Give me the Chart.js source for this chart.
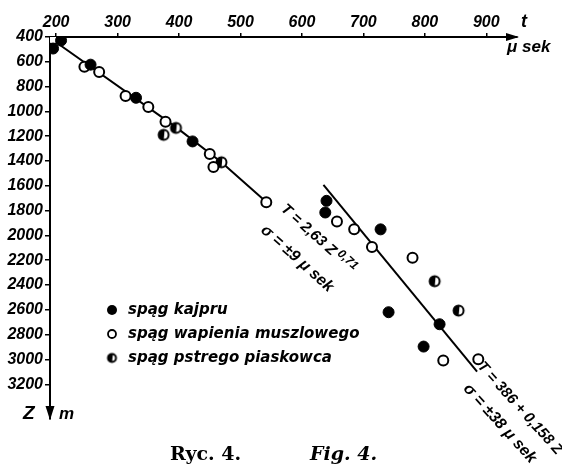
<!DOCTYPE html>
<html><head><meta charset="utf-8">
<script src="https://cdn.jsdelivr.net/npm/chart.js@4/dist/chart.umd.min.js"></script>
<style>html,body{margin:0;padding:0;background:#fff}#wrap{width:562px;height:473px;position:relative}</style>
</head><body><div id="wrap"><canvas id="c" width="562" height="473"></canvas></div>
<script>
// ---- data ----
const xTicks = [200, 300, 400, 500, 600, 700, 800, 900];
const yTicks = [400, 600, 800, 1000, 1200, 1400, 1600, 1800, 2000, 2200, 2400, 2600, 2800, 3000, 3200];
const seriesNames = ['spąg kajpru', 'spąg wapienia muszlowego', 'spąg pstrego piaskowca'];
const kajpruT = [208, 195, 256, 330, 422, 640, 638, 728, 741, 824, 798];
const kajpruZ = [428, 493, 623, 890, 1242, 1721, 1815, 1951, 2619, 2716, 2896];
const wapT = [195, 246, 270, 313, 350, 378, 450, 456, 542, 657, 685, 714, 780, 830, 887];
const wapZ = [420, 639, 682, 876, 965, 1084, 1343, 1449, 1732, 1888, 1951, 2094, 2180, 3009, 2998];
const pstT = [395, 375, 469, 816, 855];
const pstZ = [1133, 1189, 1410, 2369, 2606];
const fit1T = [205, 395, 469, 537];
const fit1Z = [460, 1127, 1410, 1708];
const fit2T = [635, 885];
const fit2Z = [1592, 3098];
const fit1Text = ['T = 2,63 Z', '0,71', 'σ = ±9 μ sek'];
const fit2Text = ['T = 386 + 0,158 Z', 'σ = ±38 μ sek'];
const xTitle = ['t', 'μ sek'];
const yTitle = ['Z', 'm'];
const captions = ['Ryc. 4.', 'Fig. 4.'];

const pts = (xs, ys) => xs.map((v, i) => ({x: v, y: ys[i]}));
const F = '"Liberation Sans", Arial, sans-serif';

function halfCanvas(r) {
  const s = Math.ceil(r * 2 + 4), c = document.createElement('canvas');
  c.width = s; c.height = s;
  const g = c.getContext('2d'), cx = s / 2, cy = s / 2;
  g.fillStyle = '#fff'; g.beginPath(); g.arc(cx, cy, r, 0, 2 * Math.PI); g.fill();
  g.fillStyle = '#000'; g.beginPath(); g.moveTo(cx + 1, cy - r); g.arc(cx, cy, r, -Math.PI / 2, Math.PI / 2, true); g.closePath(); g.fill();
  g.lineWidth = 2; g.strokeStyle = '#000'; g.beginPath(); g.arc(cx, cy, r - 0.5, 0, 2 * Math.PI); g.stroke();
  return c;
}
const halfBig = halfCanvas(5.5), halfSmall = halfCanvas(4.5);

function drawRot(ctx, txt, x, y, ang, font) {
  ctx.save(); ctx.translate(x, y); ctx.rotate(ang * Math.PI / 180);
  ctx.font = font; ctx.textAlign = 'left'; ctx.textBaseline = 'middle';
  ctx.fillText(txt, 0, 0);
  const w = ctx.measureText(txt).width;
  ctx.restore();
  return w;
}

const deco = {
  id: 'deco',
  afterDraw(chart) {
    const ctx = chart.ctx, ca = chart.chartArea;
    ctx.save(); ctx.fillStyle = '#000'; ctx.strokeStyle = '#000';
    // arrows
    ctx.beginPath(); ctx.moveTo(ca.right + 2, ca.top); ctx.lineTo(ca.right - 11, ca.top - 4); ctx.lineTo(ca.right - 11, ca.top + 4); ctx.closePath(); ctx.fill();
    ctx.beginPath(); ctx.moveTo(ca.left, ca.bottom + 1); ctx.lineTo(ca.left - 4.5, ca.bottom - 13); ctx.lineTo(ca.left + 4.5, ca.bottom - 13); ctx.closePath(); ctx.fill();
    // axis titles
    ctx.textBaseline = 'middle'; ctx.textAlign = 'left';
    ctx.font = 'italic bold 18px ' + F; ctx.fillText(xTitle[0], ca.right + 4, 22);
    ctx.font = 'italic bold 17px ' + F; ctx.fillText(xTitle[1], ca.right - 10, 47);
    ctx.font = 'italic bold 19px ' + F; ctx.fillText(yTitle[0], 23, ca.bottom - 5);
    ctx.font = 'italic bold 17px ' + F; ctx.fillText(yTitle[1], 59, ca.bottom - 5);
    // legend
    const ly = [310, 334, 358];
    ctx.font = 'italic bold 15px "DejaVu Sans"';
    ly.forEach((y, i) => {
      const x = 112;
      if (i === 0) { ctx.beginPath(); ctx.arc(x, y, 5, 0, 2 * Math.PI); ctx.fill(); }
      else if (i === 1) { ctx.lineWidth = 1.8; ctx.beginPath(); ctx.arc(x, y, 4, 0, 2 * Math.PI); ctx.stroke(); }
      else { ctx.drawImage(halfSmall, x - halfSmall.width / 2, y - halfSmall.height / 2); }
      ctx.fillText(chart.data.datasets[i].label, 128, y);
    });
    // fit annotations
    const f14 = 'italic bold 14px ' + F, f16 = 'italic bold 16px ' + F;
    const w = drawRot(ctx, fit1Text[0], 283, 207, 42, 'italic bold 15px ' + F);
    const a = 42 * Math.PI / 180;
    drawRot(ctx, fit1Text[1], 283 + (w + 3) * Math.cos(a) + 4 * Math.sin(a), 207 + (w + 3) * Math.sin(a) - 4 * Math.cos(a), 42, 'italic bold 12px ' + F);
    drawRot(ctx, fit1Text[2], 263, 228, 42, f16);
    drawRot(ctx, fit2Text[0], 480, 364, 48, 'italic bold 15px ' + F);
    drawRot(ctx, fit2Text[1], 466, 386, 48, f16);
    // captions
    ctx.font = 'bold 19px "DejaVu Serif"'; ctx.fillText(captions[0], 170, 455);
    ctx.font = 'italic bold 19px "DejaVu Serif"'; ctx.fillText(captions[1], 310, 455);
    ctx.restore();
  }
};

const tickFont = {family: F, size: 16, style: 'italic', weight: 'bold'};
new Chart(document.getElementById('c'), {
  type: 'scatter',
  data: {
    datasets: [
      {label: seriesNames[0], data: pts(kajpruT, kajpruZ), pointStyle: 'circle', pointRadius: 5.5, backgroundColor: '#000', borderColor: '#000', borderWidth: 1, order: 1},
      {label: seriesNames[1], data: pts(wapT, wapZ), pointStyle: 'circle', pointRadius: 5, backgroundColor: '#fff', borderColor: '#000', borderWidth: 2, order: 1},
      {label: seriesNames[2], data: pts(pstT, pstZ), pointStyle: halfBig, pointRadius: 5.5, backgroundColor: '#000', borderColor: '#000', order: 1},
      {label: 'fit1', type: 'line', data: pts(fit1T, fit1Z), showLine: true, pointRadius: 0, borderColor: '#000', borderWidth: 2, fill: false, order: 2},
      {label: 'fit2', type: 'line', data: pts(fit2T, fit2Z), showLine: true, pointRadius: 0, borderColor: '#000', borderWidth: 2, fill: false, order: 2}
    ]
  },
  options: {
    responsive: false, animation: false, devicePixelRatio: 1,
    layout: {padding: {left: 0, top: 0, right: 45, bottom: 54}},
    plugins: {legend: {display: false}, tooltip: {enabled: false}},
    scales: {
      x: {
        type: 'linear', position: 'top', min: 190, max: 950,
        afterBuildTicks: s => { s.ticks = xTicks.map(v => ({value: v})); },
        afterFit: s => { s.height = 37; },
        grid: {display: true, drawOnChartArea: false, drawTicks: true, tickLength: 4, color: '#000', lineWidth: 1.5},
        border: {display: true, color: '#000', width: 2},
        ticks: {color: '#000', padding: 1, maxRotation: 0, autoSkip: false, font: tickFont, callback: v => String(v)}
      },
      y: {
        type: 'linear', reverse: true, min: 400, max: 3480,
        afterBuildTicks: s => { s.ticks = yTicks.map(v => ({value: v})); },
        afterFit: s => { s.width = 50; },
        grid: {display: true, drawOnChartArea: false, drawTicks: true, tickLength: 5, color: '#000', lineWidth: 1.5},
        border: {display: true, color: '#000', width: 2},
        ticks: {color: '#000', padding: 2, autoSkip: false, font: tickFont, callback: v => String(v)}
      }
    }
  },
  plugins: [deco]
});
</script></body></html>
